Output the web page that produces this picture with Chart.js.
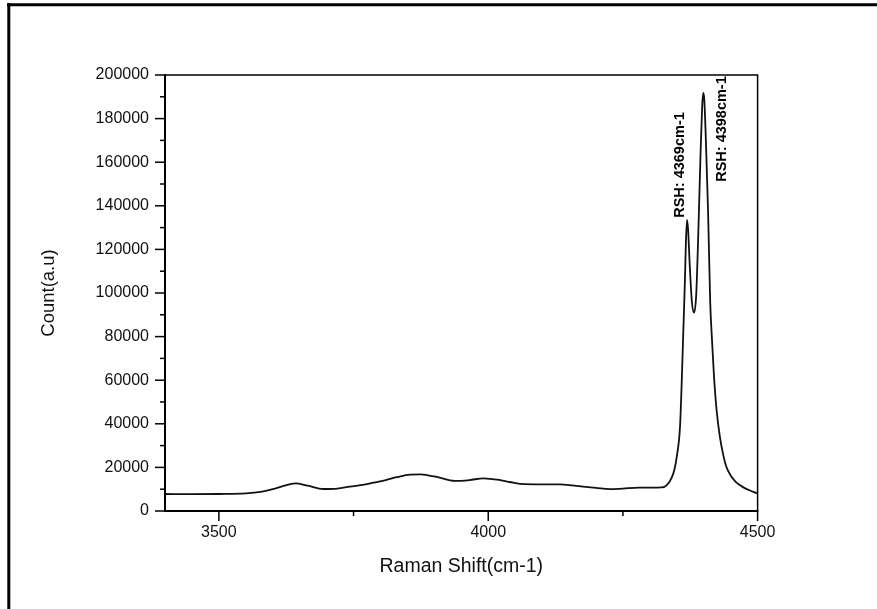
<!DOCTYPE html>
<html><head><meta charset="utf-8">
<script src="https://cdn.jsdelivr.net/npm/chart.js@4"></script>
<style>html,body{margin:0;padding:0;background:#fff;} canvas{display:block;}</style>
</head><body>
<canvas id="c" width="877" height="609"></canvas>
<script>
// ---- data ----
const ramanShift = [3400,3450,3500,3550,3580,3600,3620,3642,3665,3694,3720,3743,3770,3787,3810,3830,3855,3875,3886,3905,3938,3965,3991,4022,4040,4059,4100,4133,4155,4176,4200,4226,4250,4280,4300,4322,4332,4341,4346,4350,4356,4359,4362,4365,4367,4369,4371,4374,4378,4382,4386,4390,4394,4397,4399,4401,4404,4408,4412,4415,4419,4424,4430,4436,4442,4450,4459,4467,4476,4485,4493,4500];
const counts = [7800,7700,7800,8100,8900,10000,11500,12700,11600,10100,10300,11200,12100,13000,14200,15500,16700,16800,16500,15600,13800,14200,15000,14200,13300,12400,12200,12200,11800,11200,10600,10000,10300,10700,10700,10800,12000,15500,19500,24900,38700,58000,81500,105000,124000,133500,129000,113000,96000,91000,99000,128000,163000,185000,191800,189000,170000,138000,96000,80000,62000,46000,34000,26000,20300,16300,13500,11900,10500,9500,8700,8100];
const xMajorTicks = [3500, 4000, 4500];
const xMinorTicks = [3750, 4250];
const yMajorTicks = [0,20000,40000,60000,80000,100000,120000,140000,160000,180000,200000];
const yMinorTicks = [10000,30000,50000,70000,90000,110000,130000,150000,170000,190000];
const peakLabels = ['RSH: 4369cm-1', 'RSH: 4398cm-1'];
const peakLabelX = [4356, 4434];
const peakLabelY = [134500, 151000];
const xTitle = 'Raman Shift(cm-1)';
const yTitle = 'Count(a.u)';

const FONT = '"Liberation Sans", Arial, sans-serif';

const framePlugin = {
  id: 'framePlugin',
  afterDraw(chart) {
    const ctx = chart.ctx;
    const xs = chart.scales.x, ys = chart.scales.y;
    const a = chart.chartArea;
    ctx.save();
    ctx.strokeStyle = '#000';
    ctx.lineCap = 'butt';
    // outer frame (top & left)
    ctx.lineWidth = 3;
    ctx.beginPath(); ctx.moveTo(7, 4.8); ctx.lineTo(877, 4.8); ctx.stroke();
    ctx.beginPath(); ctx.moveTo(8.8, 3.3); ctx.lineTo(8.8, 609); ctx.stroke();
    // plot box
    ctx.lineWidth = 1.5;
    ctx.beginPath(); ctx.moveTo(a.left, a.top); ctx.lineTo(a.right, a.top); ctx.lineTo(a.right, a.bottom); ctx.stroke();
    ctx.lineWidth = 2;
    ctx.beginPath(); ctx.moveTo(a.left, a.top - 0.75); ctx.lineTo(a.left, a.bottom); ctx.lineTo(a.right + 0.75, a.bottom); ctx.stroke();
    // ticks
    ctx.lineWidth = 1.5;
    const tick = (x1, y1, x2, y2) => { ctx.beginPath(); ctx.moveTo(x1, y1); ctx.lineTo(x2, y2); ctx.stroke(); };
    xMajorTicks.forEach(v => { const p = xs.getPixelForValue(v); tick(p, a.bottom, p, a.bottom + 10); });
    xMinorTicks.forEach(v => { const p = xs.getPixelForValue(v); tick(p, a.bottom, p, a.bottom + 5); });
    yMajorTicks.forEach(v => { const p = ys.getPixelForValue(v); tick(a.left - 10, p, a.left, p); });
    yMinorTicks.forEach(v => { const p = ys.getPixelForValue(v); tick(a.left - 5, p, a.left, p); });
    // peak annotations
    ctx.fillStyle = '#000';
    ctx.font = 'bold 14.5px ' + FONT;
    ctx.textAlign = 'left';
    ctx.textBaseline = 'middle';
    peakLabels.forEach((t, i) => {
      ctx.save();
      ctx.translate(xs.getPixelForValue(peakLabelX[i]), ys.getPixelForValue(peakLabelY[i]));
      ctx.rotate(-Math.PI / 2);
      ctx.fillText(t, 0, 0);
      ctx.restore();
    });
    ctx.restore();
  }
};

new Chart(document.getElementById('c'), {
  type: 'line',
  data: {
    datasets: [{
      data: ramanShift.map((x, i) => ({ x, y: counts[i] })),
      borderColor: '#111',
      borderWidth: 1.8,
      pointRadius: 0,
      cubicInterpolationMode: 'monotone',
      fill: false
    }]
  },
  options: {
    responsive: false,
    animation: false,
    devicePixelRatio: 1,
    layout: { padding: { left: 0, top: 75, right: 119.4, bottom: 0 } },
    plugins: { legend: { display: false }, tooltip: { enabled: false } },
    scales: {
      x: {
        type: 'linear', min: 3400, max: 4500,
        grid: { display: false, drawTicks: false },
        border: { display: false },
        afterBuildTicks: s => { s.ticks = xMajorTicks.map(v => ({ value: v })); },
        afterFit: s => { s.height = 98; },
        ticks: { padding: 12, color: '#111', font: { family: FONT, size: 16 }, maxRotation: 0, autoSkip: false, callback: v => String(v) },
        title: { display: true, text: xTitle, color: '#111', font: { family: FONT, size: 19.5 }, padding: { top: 0, bottom: 31 } }
      },
      y: {
        type: 'linear', min: 0, max: 200000,
        grid: { display: false, drawTicks: false },
        border: { display: false },
        afterBuildTicks: s => { s.ticks = yMajorTicks.map(v => ({ value: v })); },
        afterFit: s => { s.width = 165; },
        ticks: { padding: 16, color: '#111', font: { family: FONT, size: 16 }, autoSkip: false, callback: v => String(v) },
        title: { display: true, text: yTitle, color: '#111', font: { family: FONT, size: 18.5 }, padding: { top: 38, bottom: 0 } }
      }
    }
  },
  plugins: [framePlugin]
});
</script>
</body></html>
